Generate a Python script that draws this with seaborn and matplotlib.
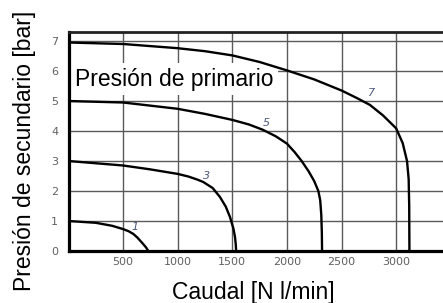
import matplotlib
matplotlib.use("Agg")
import matplotlib.pyplot as plt
import seaborn as sns
import pandas as pd

# ---- data ----
c1_x = [0, 250, 400, 500, 550, 593, 630, 670, 710, 731]
c1_y = [1.0, 0.94, 0.84, 0.73, 0.66, 0.57, 0.45, 0.29, 0.12, 0.0]

c3_x = [0, 500, 750, 1000, 1100, 1180, 1234, 1320, 1387, 1440, 1479, 1510, 1525, 1532, 1535]
c3_y = [3.0, 2.85, 2.72, 2.57, 2.48, 2.38, 2.3, 2.1, 1.8, 1.48, 1.13, 0.75, 0.46, 0.2, 0.0]

c5_x = [0, 500, 1000, 1250, 1500, 1650, 1780, 1900, 2000, 2070, 2135, 2200, 2250, 2288, 2305, 2315, 2320, 2322]
c5_y = [5.0, 4.95, 4.74, 4.57, 4.37, 4.22, 4.04, 3.82, 3.58, 3.3, 3.0, 2.65, 2.33, 2.0, 1.69, 1.2, 0.6, 0.0]

c7_x = [0, 500, 1000, 1250, 1500, 1750, 2000, 2250, 2500, 2640, 2760, 2880, 3000, 3060, 3100, 3115, 3120, 3122]
c7_y = [6.95, 6.9, 6.76, 6.66, 6.52, 6.3, 6.02, 5.72, 5.35, 5.1, 4.87, 4.52, 4.09, 3.6, 3.0, 2.4, 1.5, 0.0]

curve_names = ["1", "3", "5", "7"]
label_x = [609, 1266, 1815, 2777]
label_y = [0.81, 2.5, 4.26, 5.26]

x_ticks = [500, 1000, 1500, 2000, 2500, 3000]
y_ticks = [0, 1, 2, 3, 4, 5, 6, 7]

title_text = "Presión de primario"
x_label = "Caudal [N l/min]"
y_label = "Presión de secundario [bar]"

# ---- plotting ----
sns.set_style("white")
plt.rcParams["font.family"] = ["Liberation Sans", "DejaVu Sans"]

fig = plt.figure(figsize=(4.43, 3.03), dpi=100)
ax = fig.add_axes([68.5 / 443, 52 / 303, 1 - 68.5 / 443, 219.3 / 303])

curves = [(c1_x, c1_y), (c3_x, c3_y), (c5_x, c5_y), (c7_x, c7_y)]
for (xs, ys), name in zip(curves, curve_names):
    df = pd.DataFrame({"x": xs, "y": ys})
    sns.lineplot(data=df, x="x", y="y", ax=ax, sort=False, estimator=None,
                 color="black", lw=1.7, zorder=3)
for line in ax.lines:
    line.set_solid_joinstyle("round")

for name, lx, ly in zip(curve_names, label_x, label_y):
    ax.text(lx, ly, name, fontsize=8, style="italic", color="#4a5878",
            ha="center", va="center", zorder=4, family=["DejaVu Sans"])

ax.set_xlim(0, (443 - 68.5) / 0.1092)
ax.set_ylim(0, 219.3 / 30)

ax.set_xticks(x_ticks)
ax.set_yticks(y_ticks)
ax.set_xticklabels([str(t) for t in x_ticks])
ax.set_yticklabels([str(t) for t in y_ticks])
ax.tick_params(axis="x", length=0, pad=4.5, labelsize=8, labelcolor="#606060")
ax.tick_params(axis="y", length=0, pad=7.5, labelsize=8, labelcolor="#606060")
for lab in ax.get_xticklabels() + ax.get_yticklabels():
    lab.set_family(["DejaVu Sans"])

for v in x_ticks:
    ax.axvline(v, color="#5a5a5a", lw=1.0, zorder=1)
for v in y_ticks[1:]:
    ax.axhline(v, color="#5a5a5a", lw=1.0, zorder=1)

for s in ["left", "bottom"]:
    ax.spines[s].set_linewidth(2.3)
    ax.spines[s].set_color("black")
ax.spines["top"].set_linewidth(2.0)
ax.spines["top"].set_color("#222222")
ax.spines["right"].set_visible(False)

ax.text(60, 5.73, title_text, fontsize=16.5, color="black", ha="left",
        va="center", zorder=2,
        bbox=dict(facecolor="white", edgecolor="none", pad=3.5))

ax.set_xlabel(x_label, fontsize=16.5, color="black")
ax.set_ylabel(y_label, fontsize=16.5, color="black")
ax.xaxis.set_label_coords((253 - 68.5) / 374.5, (251 - 292) / 219.3)
ax.xaxis.label.set_va("center")
ax.yaxis.set_label_coords((25 - 68.5) / 374.5, (251 - 151) / 219.3)
ax.yaxis.label.set_va("center")

fig.savefig("out.png", dpi=100)
